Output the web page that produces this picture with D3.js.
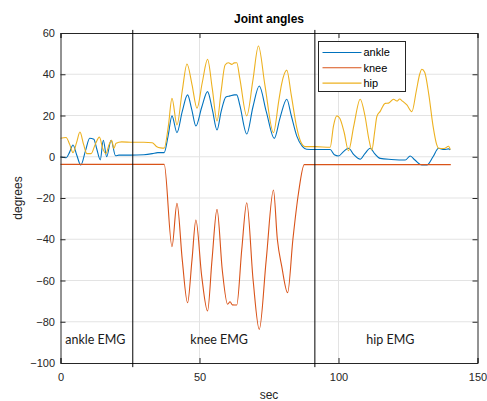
<!DOCTYPE html>
<html><head><meta charset="utf-8">
<script src="https://cdn.jsdelivr.net/npm/d3@7"></script>
<style>body{margin:0;background:#fff}svg{display:block}</style>
</head><body>
<svg id="c" width="487" height="401"></svg>
<script>
// ---- data ----
const title = "Joint angles";
const xLabel = "sec";
const yLabel = "degrees";
const xTicks = [0, 50, 100, 150];
const yTicks = [-100, -80, -60, -40, -20, 0, 20, 40, 60];
const seriesNames = ["ankle", "knee", "hip"];

const ankleT = [0,2,3.2,4.5,5.8,7.3,9,10.5,12,13,14.3,15.4,16.6,18.2,19.8,21,25,30,33,35,37.3,38.7,40.1,41.9,43.8,45.7,47.2,48.7,50.8,52.9,54.6,56.3,57.8,59.5,61,62.5,63.4,64.5,67,69.2,71.5,74,76.9,79,81.4,83,85,87,88.5,91.6,97,98.5,100,101.8,103.6,105.5,107.8,109.5,111.4,113,115,119,124,125.8,127.5,130,131.8,134,136,138,139.6,140.2];
const ankleV = [0,-0.5,2,5.7,1,-4,3,9,8.5,4,-1.5,8,0,8,0.5,0.8,0.8,1,1.5,2,2,10,19.8,11.7,22,30,23,14.9,24,31.6,23,13,22,29,29.5,30,30,25,11,24,34.3,22,8.9,19,27.9,20,10,5,3.6,3.5,3.5,1,0.4,2.5,4.1,1,-1.2,1.5,4.1,1.5,-0.8,-1.3,-1.6,0.4,-1.6,-4,-4,0,4.1,3.5,3.8,3.3];

const kneeT = [0,37.3,40.1,41.9,43.8,45.7,47.3,48.7,50.8,52.9,54.5,56.3,58.2,60.1,61,61.8,63.4,65.2,67,69.3,71.5,74,76.6,78,79.6,81.7,83.6,85.6,87.7,140.4];
const kneeV = [-3.7,-3.7,-43.6,-22.6,-50,-70.8,-50,-30.7,-58,-74.8,-50,-25.5,-55,-71.5,-70.3,-71.8,-71.9,-45,-22.3,-60,-83.7,-50,-16.1,-40,-53.3,-65.9,-40,-17.7,-3.8,-3.8];

const hipT = [0,2,3.3,4.5,5.8,7,8.3,9.5,11,12.5,14,15.2,16.3,17.5,18.4,19.2,20,22,26,30,33,34.5,36,37.3,38.8,40.1,41.9,43.8,45.5,47.3,49.1,51,52.9,54.6,56.3,57.8,59.2,60.4,61.6,62.5,63.4,64.5,67,69.2,71.2,73.5,76.6,78.5,79.5,81.4,83,85,86.5,88,91.6,97,98.2,99.4,100.5,102,103.6,105.5,107.8,109.5,111,112,113,113.8,115,116.8,118,119.8,121,122,123,124.6,126.4,128,129.2,130,131,132.5,134,135.3,136,138,139.6,140.2];
const hipV = [9,9.3,6,2,7,12,6,1.5,1.5,6,9.5,4,1.5,6,8,4,6.5,7.2,7,7,6.8,5,4.3,4.2,15,28.3,15.4,32,45,35,23.5,36,47.2,33,17.3,32,44.5,45.6,44.8,45.5,45.6,38,19.8,37,53.7,35,11.7,27,35,42,30,14,7,4.9,4.9,4.6,15,19.8,18.5,12,2.9,15,27.9,20,8,3.3,12,19.5,22,25.9,26,27.9,27,28,27,25.1,21.9,32,40,42.4,41,30,15,6,4.1,4,5.1,3.5];

const dividerX = [26, 91.5];
const regionLabels = ["ankle EMG", "knee EMG", "hip EMG"];
const regionLabelX = [1.7, 46.7, 110];
const regionLabelY = -88.8;

// ---- drawing ----
const colors = ["#0072BD", "#D95319", "#EDB120"];
const svg = d3.select("#c");
const L = 60.5, R = 477.5, T = 33, B = 363;
const x = d3.scaleLinear().domain([0, 150]).range([L, R]);
const y = d3.scaleLinear().domain([-100, 60]).range([B, T]);
const axc = "#262626";

// grid
const g = svg.append("g");
g.selectAll(".gx").data(xTicks.slice(1, -1)).join("line")
  .attr("x1", d => x(d)).attr("x2", d => x(d)).attr("y1", T).attr("y2", B)
  .attr("stroke", "#e3e3e3").attr("stroke-width", 1);
g.selectAll(".gy").data(yTicks.slice(1, -1)).join("line")
  .attr("y1", d => y(d)).attr("y2", d => y(d)).attr("x1", L).attr("x2", R)
  .attr("stroke", "#e3e3e3").attr("stroke-width", 1);

// series
const series = [
  {name: seriesNames[0], t: ankleT, v: ankleV},
  {name: seriesNames[1], t: kneeT, v: kneeV},
  {name: seriesNames[2], t: hipT, v: hipV}
];
const line = d3.line().x(d => x(d[0])).y(d => y(d[1])).curve(d3.curveMonotoneX);
series.forEach((s, i) => {
  svg.append("path").datum(s.t.map((t, k) => [t, s.v[k]]))
    .attr("d", line).attr("fill", "none")
    .attr("stroke", colors[i]).attr("stroke-width", 1.1);
});

// axes (box with inward ticks)
const axG = svg.append("g");
const axBottom = d3.axisBottom(x).tickValues(xTicks).tickSize(-5).tickPadding(10.5).tickFormat(d3.format("d"));
const axTop = d3.axisTop(x).tickValues(xTicks).tickSize(-5).tickFormat("");
const axLeft = d3.axisLeft(y).tickValues(yTicks).tickSize(-5).tickPadding(5.5).tickFormat(d3.format("d"));
const axRight = d3.axisRight(y).tickValues(yTicks).tickSize(-5).tickFormat("");
[[axBottom, `translate(0,${B})`], [axTop, `translate(0,${T})`], [axLeft, `translate(${L},0)`], [axRight, `translate(${R},0)`]].forEach(([a, tr]) => {
  const gg = axG.append("g").attr("transform", tr).call(a);
  gg.select(".domain").attr("stroke", axc).attr("stroke-width", 1);
  gg.selectAll(".tick line").attr("stroke", axc);
  gg.selectAll(".tick text").attr("fill", axc);
});
axG.selectAll("g").attr("font-family", "'Liberation Sans', Arial, sans-serif").attr("font-size", 11);

// dividers
svg.selectAll(".div").data(dividerX).join("line")
  .attr("x1", d => x(d)).attr("x2", d => x(d))
  .attr("y1", y(61.5)).attr("y2", y(-102))
  .attr("stroke", "#000").attr("stroke-width", 1);

// region labels
svg.selectAll(".rl").data(regionLabels).join("text")
  .attr("x", (d, i) => x(regionLabelX[i])).attr("y", y(regionLabelY))
  .attr("dy", "0.35em")
  .attr("font-family", "Lato, 'Open Sans', sans-serif").attr("font-size", 12.5)
  .attr("fill", "#1a1a1a").text(d => d);

// title & labels
svg.append("text").attr("x", (L + R) / 2).attr("y", 23).attr("text-anchor", "middle")
  .attr("font-family", "'Liberation Sans', Arial, sans-serif").attr("font-size", 12)
  .attr("font-weight", "bold").attr("fill", "#000").text(title);
svg.append("text").attr("x", (L + R) / 2).attr("y", 399).attr("text-anchor", "middle")
  .attr("font-family", "'Liberation Sans', Arial, sans-serif").attr("font-size", 12)
  .attr("fill", axc).text(xLabel);
svg.append("text").attr("transform", `translate(22,${(T + B) / 2}) rotate(-90)`)
  .attr("text-anchor", "middle")
  .attr("font-family", "'Liberation Sans', Arial, sans-serif").attr("font-size", 12)
  .attr("fill", axc).text(yLabel);

// legend
const lg = svg.append("g").attr("transform", "translate(318.5,41.5)");
lg.append("rect").attr("width", 87).attr("height", 50).attr("fill", "#fff")
  .attr("stroke", "#262626").attr("stroke-width", 1);
seriesNames.forEach((n, i) => {
  const yy = 11 + i * 15.3;
  lg.append("line").attr("x1", 4).attr("x2", 43).attr("y1", yy).attr("y2", yy)
    .attr("stroke", colors[i]).attr("stroke-width", 1.1);
  lg.append("text").attr("x", 45).attr("y", yy).attr("dy", "0.35em")
    .attr("font-family", "'Liberation Sans', Arial, sans-serif").attr("font-size", 11)
    .attr("fill", "#000").text(n);
});
</script>
</body></html>
